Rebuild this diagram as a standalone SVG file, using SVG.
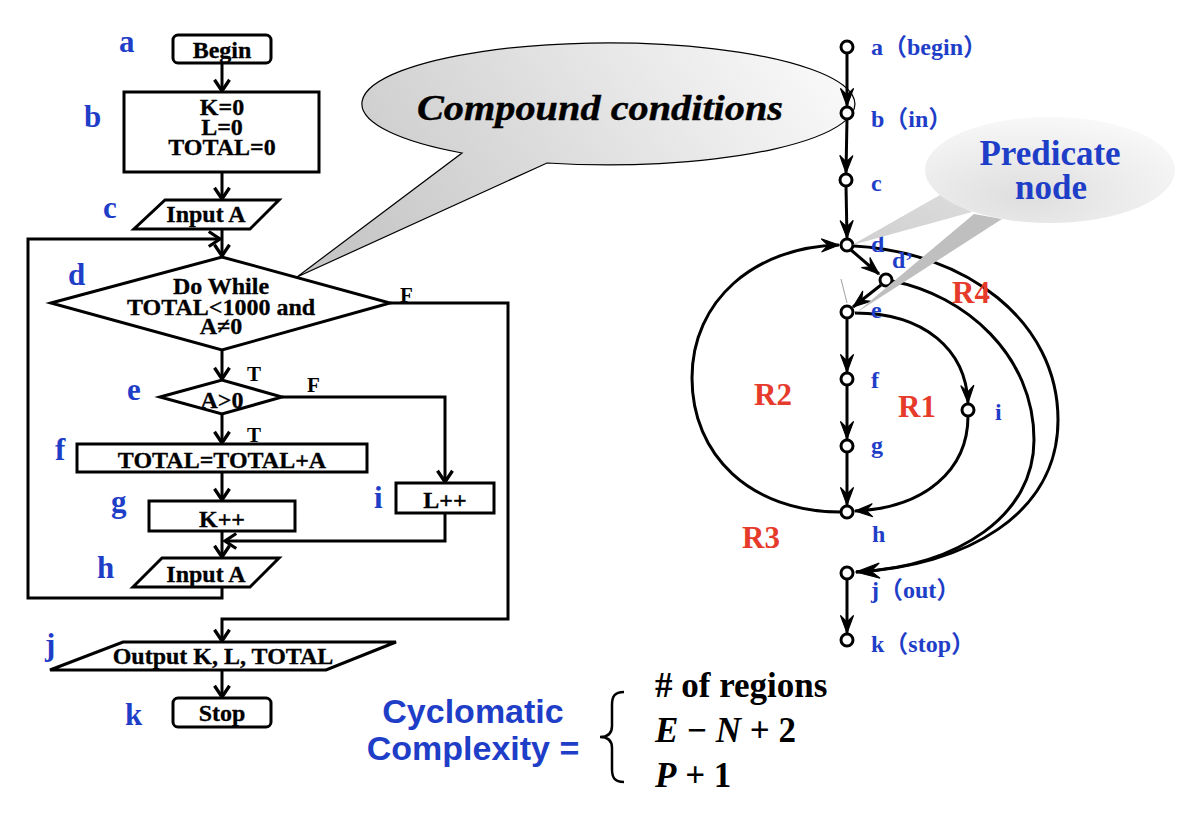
<svg xmlns="http://www.w3.org/2000/svg" width="1178" height="818" viewBox="0 0 1178 818">
<defs>
<style>
.fc{fill:#fff;stroke:#000;stroke-width:3}
.ln{fill:none;stroke:#000;stroke-width:3}
.tx{font-family:"Liberation Serif","Times New Roman",serif;font-weight:bold;font-size:24px;fill:#000;stroke:#000;stroke-width:0.3;text-anchor:middle}
.tf{font-family:"Liberation Serif","Times New Roman",serif;font-weight:bold;font-size:21px;fill:#000}
.lb{font-family:"Liberation Serif","Times New Roman",serif;font-weight:bold;font-size:31px;fill:#1f3ec8}
.gl{font-family:"Liberation Serif","Noto Sans CJK SC",serif;font-weight:bold;font-size:24px;fill:#1f3ec8}
.rg{font-family:"Liberation Serif","Times New Roman",serif;font-weight:bold;font-size:31px;fill:#e63a2b}
.nd{fill:#fff;stroke:#000;stroke-width:3}
.ge{fill:none;stroke:#000;stroke-width:3}
.cy{font-family:"Liberation Sans",Arial,sans-serif;font-weight:bold;font-size:34px;fill:#1f3ec8;text-anchor:middle}
.fm{font-family:"Liberation Serif","Times New Roman",serif;font-weight:bold;font-size:35px;fill:#000}
</style>
<marker id="oa" markerUnits="userSpaceOnUse" markerWidth="20" markerHeight="20" viewBox="-12 -8 14 16" refX="0" refY="0" orient="auto">
<path d="M-9,-6 L0,0 L-9,6" fill="none" stroke="#000" stroke-width="2.6"/>
</marker>
<marker id="ga" markerUnits="userSpaceOnUse" markerWidth="22" markerHeight="20" viewBox="-18 -8 20 16" refX="0" refY="0" orient="auto">
<path d="M0,0 L-16,-6 L-10,0 L-16,6 Z" fill="#000" stroke="#000" stroke-width="1"/>
</marker>
<marker id="gb" markerUnits="userSpaceOnUse" markerWidth="28" markerHeight="20" viewBox="-24 -8 26 16" refX="0" refY="0" orient="auto">
<path d="M0,0 L-22,-7 L-14,0 L-22,7 Z" fill="#000" stroke="#000" stroke-width="1"/>
</marker>
<linearGradient id="cg" x1="0" y1="0.6" x2="1" y2="0.3">
<stop offset="0" stop-color="#c6c6c6"/>
<stop offset="1" stop-color="#f8f8f8"/>
</linearGradient>
<radialGradient id="pg" cx="0.4" cy="0.75" r="0.75">
<stop offset="0" stop-color="#dedede"/>
<stop offset="1" stop-color="#f8f8f8"/>
</radialGradient>
<linearGradient id="t1" x1="0" y1="1" x2="1" y2="0">
<stop offset="0" stop-color="#cfcfcf"/>
<stop offset="1" stop-color="#dcdcdc"/>
</linearGradient>
</defs>
<rect width="1178" height="818" fill="#fff"/>

<!-- Compound conditions callout -->
<g id="callout-compound">
<path d="M547,163 A246.5,61 0 1 0 462,153 L297,277 Z" fill="url(#cg)" stroke="#000" stroke-width="1.2"/>
<text x="600" y="120" font-family="'Liberation Serif','Times New Roman',serif" font-weight="bold" font-style="italic" font-size="36" stroke="#000" stroke-width="0.4" text-anchor="middle" textLength="366" lengthAdjust="spacingAndGlyphs">Compound conditions</text>
</g>

<!-- Flowchart connectors -->
<g id="flow-connectors">
<line class="ln" x1="222" y1="63" x2="222" y2="91" marker-end="url(#oa)"/>
<line class="ln" x1="222" y1="172" x2="222" y2="199" marker-end="url(#oa)"/>
<line class="ln" x1="222" y1="229" x2="222" y2="256" marker-end="url(#oa)"/>
<polyline class="ln" points="222,587 222,598 28,598 28,239 220,239" marker-end="url(#oa)"/>
<polyline class="ln" points="390,303 508,303 508,619 222,619 222,641" marker-end="url(#oa)"/>
<line class="ln" x1="222" y1="350" x2="222" y2="379" marker-end="url(#oa)"/>
<polyline class="ln" points="282,397 445,397 445,482" marker-end="url(#oa)"/>
<line class="ln" x1="222" y1="414" x2="222" y2="443" marker-end="url(#oa)"/>
<line class="ln" x1="222" y1="472" x2="222" y2="500" marker-end="url(#oa)"/>
<polyline class="ln" points="445,513 445,541 225,541" marker-end="url(#oa)"/>
<line class="ln" x1="222" y1="531" x2="222" y2="557" marker-end="url(#oa)"/>
<line class="ln" x1="222" y1="670" x2="222" y2="697" marker-end="url(#oa)"/>
<text class="tf" x="400" y="302">F</text>
<text class="tf" x="247" y="381">T</text>
<text class="tf" x="307" y="392">F</text>
<text class="tf" x="247" y="442">T</text>
</g>

<!-- Flowchart nodes -->
<g id="fc-a">
<rect class="fc" x="173" y="35" width="98" height="28" rx="5"/>
<text class="tx" x="222" y="58">Begin</text>
<text class="lb" x="119" y="52">a</text>
</g>
<g id="fc-b">
<rect class="fc" x="124" y="92" width="195" height="80"/>
<text class="tx" x="222" y="115">K=0</text>
<text class="tx" x="222" y="135">L=0</text>
<text class="tx" x="222" y="155">TOTAL=0</text>
<text class="lb" x="84" y="127">b</text>
</g>
<g id="fc-c">
<polygon class="fc" points="165,200 279,200 250,229 134,229"/>
<text class="tx" x="206" y="222">Input A</text>
<text class="lb" x="103" y="218">c</text>
</g>
<g id="fc-d">
<polygon class="fc" points="51,303 222,257 390,303 222,350"/>
<text class="tx" x="221" y="294">Do While</text>
<text class="tx" x="221" y="315">TOTAL&lt;1000 and</text>
<text class="tx" x="221" y="334">A≠0</text>
<text class="lb" x="68" y="285">d</text>
</g>
<g id="fc-e">
<polygon class="fc" points="160,397 222,380 282,397 222,414"/>
<text class="tx" x="222" y="408">A&gt;0</text>
<text class="lb" x="127" y="400">e</text>
</g>
<g id="fc-f">
<rect class="fc" x="77" y="444" width="290" height="28"/>
<text class="tx" x="222" y="468">TOTAL=TOTAL+A</text>
<text class="lb" x="55" y="460">f</text>
</g>
<g id="fc-g">
<rect class="fc" x="149" y="501" width="146" height="30"/>
<text class="tx" x="222" y="527">K++</text>
<text class="lb" x="111" y="512">g</text>
</g>
<g id="fc-i">
<rect class="fc" x="396" y="483" width="98" height="30"/>
<text class="tx" x="445" y="508">L++</text>
<text class="lb" x="374" y="508">i</text>
</g>
<g id="fc-h">
<polygon class="fc" points="162,558 279,558 250,587 133,587"/>
<text class="tx" x="206" y="582">Input A</text>
<text class="lb" x="97" y="578">h</text>
</g>
<g id="fc-j">
<polygon class="fc" points="123,642 396,642 326,670 50,670"/>
<text class="tx" x="223" y="664">Output K, L, TOTAL</text>
<text class="lb" x="45" y="655">j</text>
</g>
<g id="fc-k">
<rect class="fc" x="173" y="698" width="98" height="29" rx="5"/>
<text class="tx" x="222" y="721">Stop</text>
<text class="lb" x="125" y="725">k</text>
</g>

<!-- Flow graph connectors -->
<g id="graph-edges">
<line class="ge" x1="847" y1="53" x2="847" y2="106" marker-end="url(#ga)"/>
<line class="ge" x1="847" y1="119" x2="846" y2="173" marker-end="url(#ga)"/>
<line class="ge" x1="846" y1="186" x2="847" y2="238" marker-end="url(#ga)"/>
<line class="ge" x1="851" y1="250" x2="879" y2="274" marker-end="url(#ga)"/>
<line class="ge" x1="881" y1="285" x2="853" y2="307" marker-end="url(#ga)"/>
<line class="ge" x1="847" y1="318" x2="847" y2="372" marker-end="url(#ga)"/>
<line class="ge" x1="847" y1="385" x2="847" y2="439" marker-end="url(#ga)"/>
<line class="ge" x1="847" y1="452" x2="847" y2="505" marker-end="url(#ga)"/>
<line class="ge" x1="847" y1="579" x2="847" y2="633" marker-end="url(#ga)"/>
<path class="ge" d="M855,313 C925,313 966,350 968,403" marker-end="url(#ga)"/>
<path class="ge" d="M968,416 C968,470 925,508 855,511" marker-end="url(#ga)"/>
<path class="ge" d="M841,512 C750,512 692,455 692,378 C692,300 755,247 839,245" marker-end="url(#ga)"/>
<path class="ge" d="M854,246 C965,252 1058,320 1058,420 C1058,515 965,566 856,572"/>
<path class="ge" d="M892,281 C965,295 1034,355 1034,440 C1034,515 960,566 856,572" marker-end="url(#gb)"/>
<line x1="841" y1="279" x2="847" y2="303" stroke="#777" stroke-width="0.7"/>
</g>

<!-- Flow graph nodes -->
<g id="n-a"><circle class="nd" cx="847" cy="47" r="6"/><text class="gl" x="871" y="55">a（begin）</text></g>
<g id="n-b"><circle class="nd" cx="847" cy="113" r="6"/><text class="gl" x="871" y="127">b（in）</text></g>
<g id="n-c"><circle class="nd" cx="846" cy="180" r="6"/><text class="gl" x="871" y="191">c</text></g>
<g id="n-d"><circle class="nd" cx="847" cy="245" r="6"/><text class="gl" x="871" y="252">d</text></g>
<g id="n-d2"><circle class="nd" cx="886" cy="280" r="6"/><text class="gl" x="892" y="268" font-size="17">d’</text></g>
<g id="n-e"><circle class="nd" cx="847" cy="312" r="6"/><text class="gl" x="871" y="318">e</text></g>
<g id="n-f"><circle class="nd" cx="847" cy="379" r="6"/><text class="gl" x="871" y="388">f</text></g>
<g id="n-g"><circle class="nd" cx="847" cy="446" r="6"/><text class="gl" x="871" y="453">g</text></g>
<g id="n-h"><circle class="nd" cx="847" cy="512" r="6"/><text class="gl" x="872" y="542">h</text></g>
<g id="n-i"><circle class="nd" cx="968" cy="410" r="6"/><text class="gl" x="995" y="420">i</text></g>
<g id="n-j"><circle class="nd" cx="847" cy="573" r="6"/><text class="gl" x="871" y="598">j（out）</text></g>
<g id="n-k"><circle class="nd" cx="847" cy="640" r="6"/><text class="gl" x="871" y="652">k（stop）</text></g>

<!-- Regions -->
<g id="regions">
<text class="rg" x="952" y="303">R4</text>
<text class="rg" x="754" y="405">R2</text>
<text class="rg" x="898" y="417">R1</text>
<text class="rg" x="742" y="548">R3</text>
</g>

<!-- Predicate node callout -->
<g id="callout-predicate">
<polygon points="940,195 972,212 852,245" fill="url(#t1)"/>
<polygon points="974,214 1002,219 856,313" fill="#bfbfbf"/>
<ellipse cx="1050" cy="170" rx="125" ry="53" fill="url(#pg)"/>
<text x="1050" y="165" font-family="'Liberation Serif','Times New Roman',serif" font-weight="bold" font-size="35" fill="#1f3ec8" text-anchor="middle">Predicate</text>
<text x="1051" y="199" font-family="'Liberation Serif','Times New Roman',serif" font-weight="bold" font-size="35" fill="#1f3ec8" text-anchor="middle">node</text>
</g>

<!-- Cyclomatic complexity -->
<g id="formula">
<text class="cy" x="473" y="723">Cyclomatic</text>
<text class="cy" x="473" y="760">Complexity =</text>
<path d="M624,692 C614,692 612,697 612,705 L612,726 C612,733 608,737 600,737 C608,737 612,741 612,748 L612,769 C612,777 614,782 624,782" fill="none" stroke="#000" stroke-width="2.5"/>
<text class="fm" x="655" y="697"># of regions</text>
<text class="fm" x="655" y="742"><tspan font-style="italic">E</tspan> − <tspan font-style="italic">N</tspan> + 2</text>
<text class="fm" x="655" y="787"><tspan font-style="italic">P</tspan> + 1</text>
</g>
</svg>
